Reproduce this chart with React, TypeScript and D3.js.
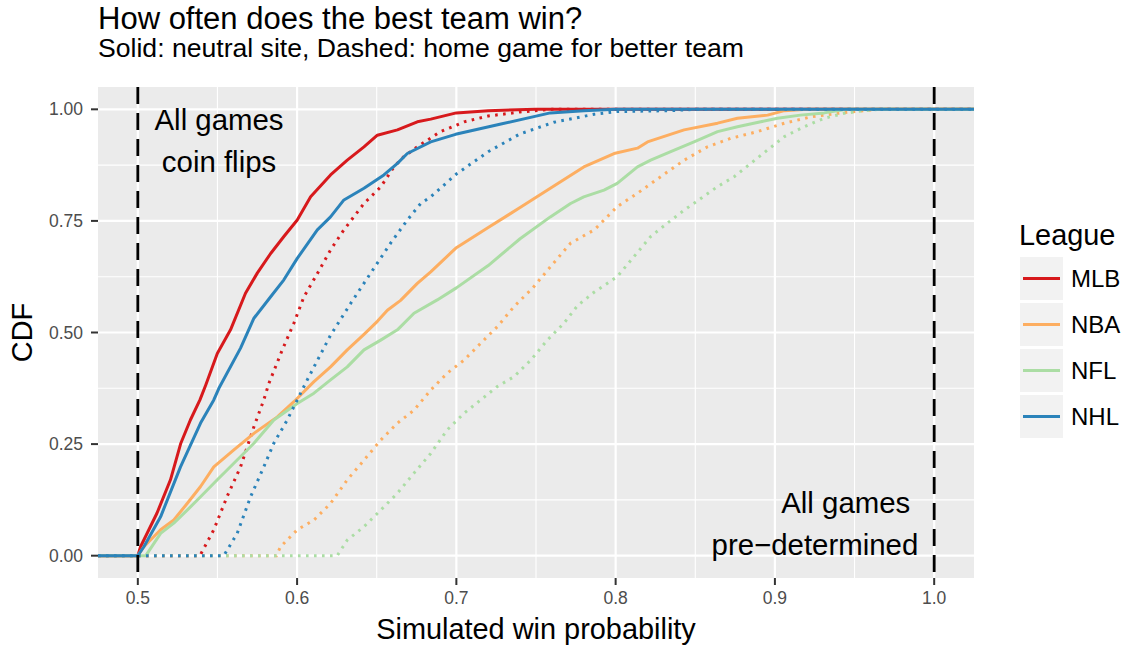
import React, { useEffect, useRef } from "react";
import * as d3 from "d3";

// ECDF readings [win probability, cdf] per league, neutral site (solid) and home game (dotted)
const mlbNeutral = [[0.5,0],[0.5017,0.02],[0.512,0.095],[0.5205,0.17],[0.527,0.252],[0.533,0.304],[0.539,0.349],[0.5426,0.382],[0.5499,0.453],[0.5582,0.506],[0.5676,0.588],[0.575,0.633],[0.5834,0.677],[0.5917,0.715],[0.6001,0.752],[0.6085,0.804],[0.621,0.853],[0.6315,0.886],[0.642,0.916],[0.6504,0.942],[0.663,0.954],[0.6755,0.972],[0.6839,0.978],[0.7,0.992],[0.72,0.997],[0.75,1]];
const mlbHome = [[0.539,0],[0.5477,0.058],[0.556,0.132],[0.5645,0.199],[0.5729,0.289],[0.5791,0.349],[0.5823,0.386],[0.5907,0.461],[0.598,0.521],[0.6043,0.58],[0.6116,0.625],[0.621,0.685],[0.6294,0.73],[0.642,0.789],[0.6525,0.826],[0.6608,0.871],[0.667,0.894],[0.6755,0.916],[0.69,0.95],[0.705,0.972],[0.72,0.985],[0.74,0.994],[0.76,1]];
const nbaNeutral = [[0.5,0],[0.5038,0.02],[0.5143,0.058],[0.5226,0.08],[0.531,0.117],[0.5394,0.155],[0.5477,0.199],[0.5603,0.237],[0.5729,0.274],[0.5876,0.311],[0.598,0.345],[0.6106,0.39],[0.621,0.423],[0.6315,0.461],[0.642,0.496],[0.6504,0.525],[0.6567,0.55],[0.665,0.572],[0.6755,0.61],[0.6839,0.636],[0.7,0.69],[0.72,0.735],[0.74,0.78],[0.759,0.823],[0.78,0.871],[0.799,0.901],[0.8137,0.913],[0.82,0.927],[0.843,0.954],[0.864,0.969],[0.8765,0.98],[0.8954,0.987],[0.906,0.997],[0.92,1]];
const nbaHome = [[0.587,0],[0.5896,0.02],[0.6001,0.058],[0.6106,0.08],[0.621,0.117],[0.6315,0.17],[0.642,0.214],[0.6525,0.259],[0.663,0.297],[0.6734,0.326],[0.6839,0.371],[0.6943,0.409],[0.7048,0.438],[0.7153,0.476],[0.7257,0.513],[0.7362,0.558],[0.748,0.6],[0.759,0.647],[0.7717,0.7],[0.7866,0.73],[0.801,0.782],[0.8137,0.812],[0.8283,0.849],[0.843,0.886],[0.8577,0.916],[0.8723,0.935],[0.889,0.95],[0.906,0.969],[0.9225,0.983],[0.9393,0.991],[0.956,0.997],[0.965,1]];
const nflNeutral = [[0.505,0],[0.5143,0.05],[0.5226,0.073],[0.531,0.102],[0.5394,0.132],[0.5499,0.17],[0.5603,0.207],[0.5729,0.252],[0.5854,0.304],[0.6001,0.341],[0.6106,0.364],[0.621,0.394],[0.6315,0.423],[0.642,0.461],[0.6525,0.483],[0.663,0.506],[0.6734,0.543],[0.688,0.573],[0.7,0.6],[0.72,0.65],[0.74,0.71],[0.759,0.759],[0.7717,0.789],[0.78,0.804],[0.7927,0.819],[0.801,0.834],[0.8137,0.871],[0.822,0.886],[0.8346,0.905],[0.8492,0.927],[0.864,0.95],[0.8765,0.961],[0.8911,0.972],[0.9016,0.98],[0.916,0.987],[0.931,0.992],[0.945,1]];
const nflHome = [[0.6252,0],[0.6315,0.035],[0.642,0.065],[0.6525,0.102],[0.663,0.14],[0.6734,0.185],[0.6839,0.229],[0.6943,0.282],[0.7048,0.319],[0.7153,0.349],[0.7257,0.379],[0.7362,0.401],[0.7467,0.438],[0.7571,0.483],[0.7676,0.521],[0.776,0.56],[0.7864,0.59],[0.801,0.625],[0.8115,0.67],[0.822,0.715],[0.8325,0.745],[0.843,0.774],[0.8534,0.8],[0.864,0.827],[0.8744,0.849],[0.8849,0.879],[0.8954,0.909],[0.906,0.939],[0.9184,0.961],[0.931,0.98],[0.9435,0.991],[0.956,0.997],[0.965,1]];
const nhlNeutral = [[0.5,0],[0.5038,0.02],[0.5143,0.087],[0.5268,0.199],[0.5394,0.297],[0.5477,0.349],[0.5509,0.375],[0.5645,0.465],[0.5729,0.532],[0.5834,0.58],[0.5917,0.618],[0.6001,0.666],[0.6127,0.73],[0.621,0.759],[0.6294,0.797],[0.642,0.823],[0.6545,0.853],[0.663,0.879],[0.6692,0.901],[0.6839,0.927],[0.6995,0.944],[0.728,0.967],[0.759,0.992],[0.78,0.997],[0.8,1]];
const nhlHome = [[0.554,0],[0.5624,0.05],[0.5708,0.132],[0.5791,0.199],[0.5854,0.252],[0.5938,0.304],[0.598,0.334],[0.6064,0.394],[0.621,0.494],[0.6336,0.565],[0.6462,0.633],[0.6587,0.7],[0.6692,0.752],[0.6776,0.789],[0.6839,0.804],[0.7,0.855],[0.72,0.905],[0.74,0.945],[0.7613,0.971],[0.774,0.98],[0.7866,0.989],[0.801,0.995],[0.834,0.997],[0.85,1]];

const leagues = ["MLB", "NBA", "NFL", "NHL"];
const leagueColors = ["#d7191c", "#fdae61", "#abdda4", "#2b83ba"];
const neutralSeries = [mlbNeutral, nbaNeutral, nflNeutral, nhlNeutral];
const homeSeries = [mlbHome, nbaHome, nflHome, nhlHome];

const xTicks = [0.5, 0.6, 0.7, 0.8, 0.9, 1.0];
const xMinor = [0.55, 0.65, 0.75, 0.85, 0.95];
const yTicks = [0, 0.25, 0.5, 0.75, 1.0];
const yMinor = [0.125, 0.375, 0.625, 0.875];
const boundaryLines = [0.5, 1.0];

const FONT = "'Liberation Sans', Arial, Helvetica, sans-serif";

export default function App() {
  const svgRef = useRef(null);

  useEffect(() => {
    const width = 1124;
    const height = 649;
    const panel = { left: 98, right: 974, top: 87, bottom: 578 };

    const svg = d3.select(svgRef.current);
    svg.selectAll("*").remove();
    svg.attr("width", width).attr("height", height);

    const x = d3.scaleLinear().domain([0.475, 1.025]).range([panel.left, panel.right]);
    const y = d3.scaleLinear().domain([-0.05, 1.05]).range([panel.bottom, panel.top]);

    // title + subtitle
    svg.append("text")
      .attr("x", 98).attr("y", 29)
      .style("font-family", FONT).style("font-size", "31px").attr("fill", "#000")
      .text("How often does the best team win?");
    svg.append("text")
      .attr("x", 98).attr("y", 57)
      .style("font-family", FONT).style("font-size", "26.6px").attr("fill", "#000")
      .text("Solid: neutral site, Dashed: home game for better team");

    // panel background
    svg.append("rect")
      .attr("x", panel.left).attr("y", panel.top)
      .attr("width", panel.right - panel.left).attr("height", panel.bottom - panel.top)
      .attr("fill", "#ebebeb");

    const grid = svg.append("g");
    xMinor.forEach((v) => {
      grid.append("line").attr("x1", x(v)).attr("x2", x(v)).attr("y1", panel.top).attr("y2", panel.bottom)
        .attr("stroke", "#fff").attr("stroke-width", 1.1);
    });
    yMinor.forEach((v) => {
      grid.append("line").attr("y1", y(v)).attr("y2", y(v)).attr("x1", panel.left).attr("x2", panel.right)
        .attr("stroke", "#fff").attr("stroke-width", 1.1);
    });
    xTicks.forEach((v) => {
      grid.append("line").attr("x1", x(v)).attr("x2", x(v)).attr("y1", panel.top).attr("y2", panel.bottom)
        .attr("stroke", "#fff").attr("stroke-width", 2.2);
    });
    yTicks.forEach((v) => {
      grid.append("line").attr("y1", y(v)).attr("y2", y(v)).attr("x1", panel.left).attr("x2", panel.right)
        .attr("stroke", "#fff").attr("stroke-width", 2.2);
    });

    // curves, ECDF extends to the panel edges
    const [x0, x1] = x.domain();
    const line = d3.line().x((d) => x(d[0])).y((d) => y(d[1]));
    const plot = svg.append("g");
    leagues.forEach((lg, i) => {
      const solid = [[x0, 0], ...neutralSeries[i], [x1, 1]];
      const dotted = [[x0, 0], ...homeSeries[i], [x1, 1]];
      plot.append("path").datum(solid).attr("d", line)
        .attr("fill", "none").attr("stroke", leagueColors[i]).attr("stroke-width", 3)
        .attr("stroke-linejoin", "round");
      plot.append("path").datum(dotted).attr("d", line)
        .attr("fill", "none").attr("stroke", leagueColors[i]).attr("stroke-width", 3)
        .attr("stroke-dasharray", "2.6,5.4");
    });

    // boundary lines
    boundaryLines.forEach((v) => {
      svg.append("line").attr("x1", x(v)).attr("x2", x(v)).attr("y1", panel.top).attr("y2", panel.bottom)
        .attr("stroke", "#000").attr("stroke-width", 2.8).attr("stroke-dasharray", "17,9");
    });

    // annotations
    const anno = svg.append("g").style("font-family", FONT).style("font-size", "29.4px").attr("fill", "#000");
    anno.append("text").attr("x", x(0.551)).attr("y", 130).attr("text-anchor", "middle").text("All games");
    anno.append("text").attr("x", x(0.551)).attr("y", 172).attr("text-anchor", "middle").text("coin flips");
    anno.append("text").attr("x", x(0.99) - 8).attr("y", 513).attr("text-anchor", "end").text("All games");
    anno.append("text").attr("x", x(0.99)).attr("y", 555).attr("text-anchor", "end").text("pre\u2212determined");

    // axes
    const xAxis = svg.append("g");
    xTicks.forEach((v) => {
      xAxis.append("line").attr("x1", x(v)).attr("x2", x(v)).attr("y1", panel.bottom).attr("y2", panel.bottom + 7)
        .attr("stroke", "#333").attr("stroke-width", 2);
      xAxis.append("text").attr("x", x(v)).attr("y", 604).attr("text-anchor", "middle")
        .style("font-family", FONT).style("font-size", "17.5px").attr("fill", "#4d4d4d")
        .text(d3.format(".1f")(v));
    });
    const yAxis = svg.append("g");
    yTicks.forEach((v) => {
      yAxis.append("line").attr("x1", panel.left - 7).attr("x2", panel.left).attr("y1", y(v)).attr("y2", y(v))
        .attr("stroke", "#333").attr("stroke-width", 2);
      yAxis.append("text").attr("x", 83).attr("y", y(v)).attr("dy", "0.35em").attr("text-anchor", "end")
        .style("font-family", FONT).style("font-size", "17.5px").attr("fill", "#4d4d4d")
        .text(d3.format(".2f")(v));
    });

    svg.append("text")
      .attr("x", (panel.left + panel.right) / 2).attr("y", 639).attr("text-anchor", "middle")
      .style("font-family", FONT).style("font-size", "28.9px").attr("fill", "#000")
      .text("Simulated win probability");
    svg.append("text")
      .attr("transform", `translate(32,${(panel.top + panel.bottom) / 2}) rotate(-90)`)
      .attr("text-anchor", "middle")
      .style("font-family", FONT).style("font-size", "28.9px").attr("fill", "#000")
      .text("CDF");

    // legend
    const legend = svg.append("g").style("font-family", FONT);
    legend.append("text").attr("x", 1019).attr("y", 245).style("font-size", "28.9px").attr("fill", "#000").text("League");
    leagues.forEach((lg, i) => {
      const top = 257 + i * 46;
      legend.append("rect").attr("x", 1020).attr("y", top).attr("width", 43).attr("height", 43).attr("fill", "#f2f2f2");
      legend.append("line").attr("x1", 1023).attr("x2", 1060).attr("y1", top + 21.5).attr("y2", top + 21.5)
        .attr("stroke", leagueColors[i]).attr("stroke-width", 3);
      legend.append("text").attr("x", 1071).attr("y", top + 21.5).attr("dy", "0.35em")
        .style("font-size", "24px").attr("fill", "#000").text(lg);
    });
  }, []);

  return (
    <svg
      ref={svgRef}
      style={{ display: "block", position: "absolute", left: 0, top: 0, background: "#fff" }}
    ></svg>
  );
}
